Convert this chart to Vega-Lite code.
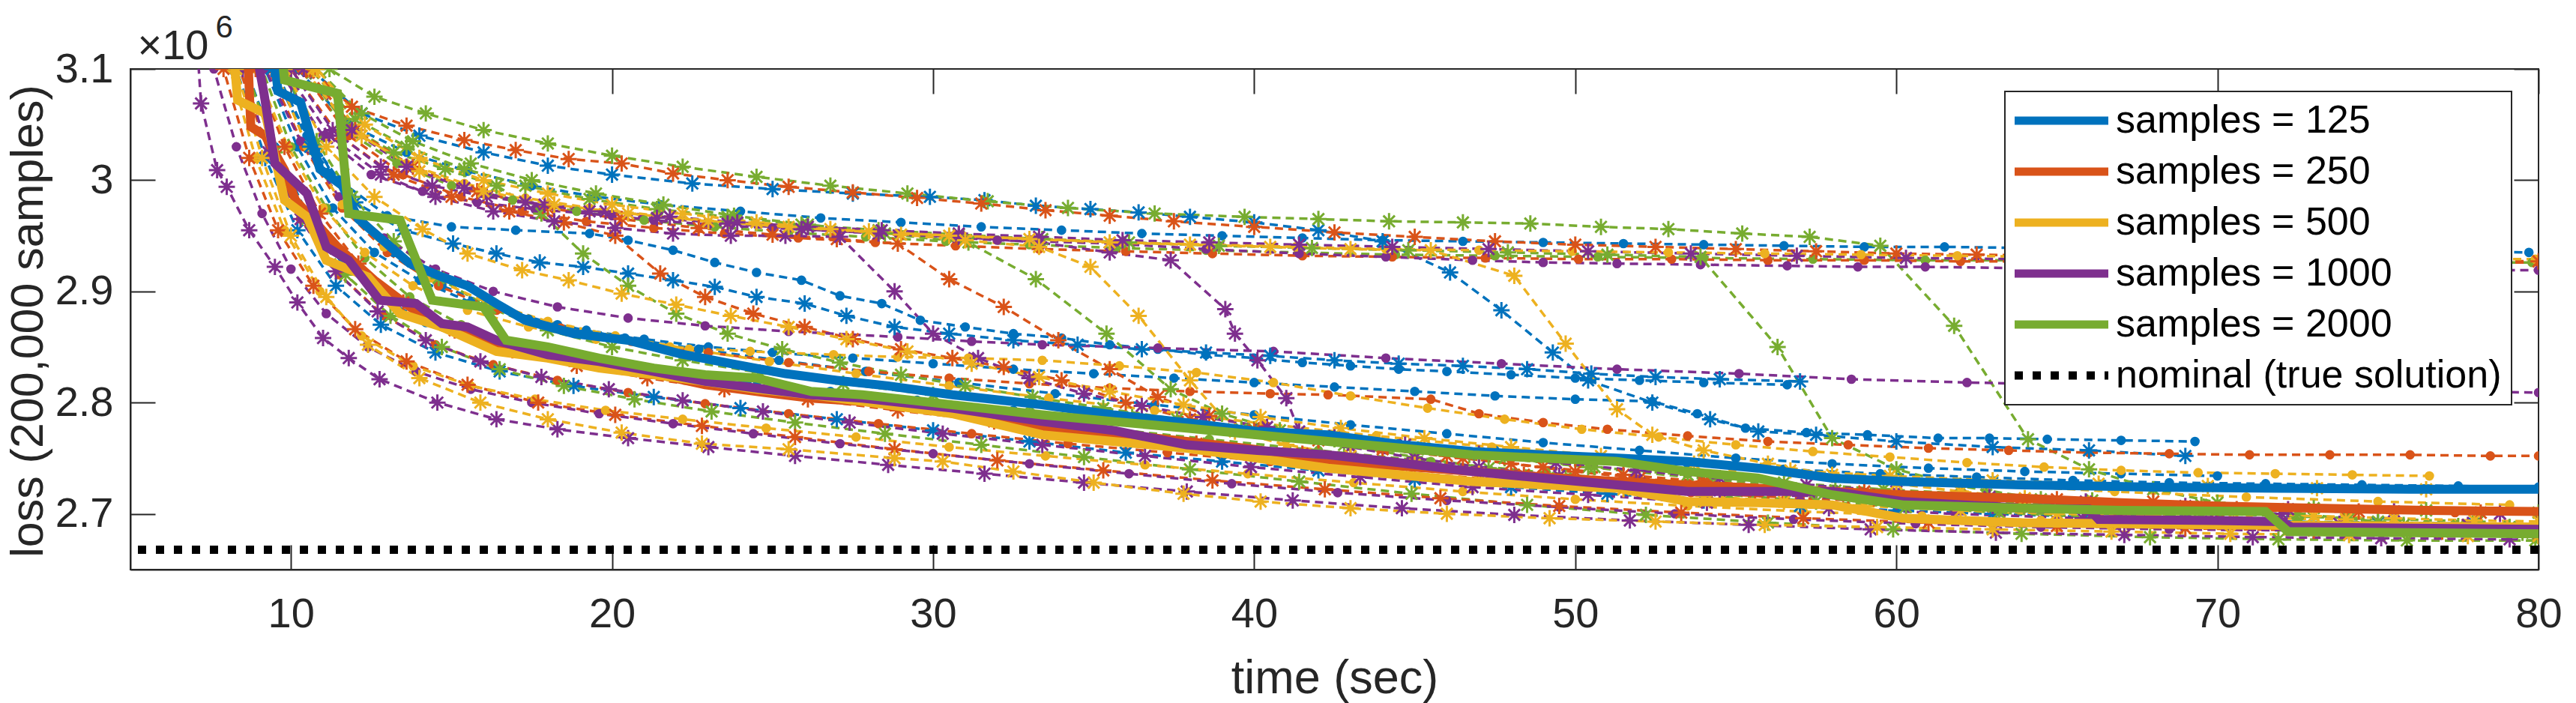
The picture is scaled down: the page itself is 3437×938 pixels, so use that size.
{
  "$schema": "https://vega.github.io/schema/vega-lite/v6.json",
  "width": 3213,
  "height": 668,
  "autosize": {"type": "none"},
  "padding": {"left": 174, "top": 92, "right": 50, "bottom": 178},
  "background": "white",
  "config": {
    "font": "Liberation Sans",
    "view": {"stroke": "#262626", "strokeWidth": 2}
  },
  "datasets": {
    "meta": [
      {"k": "b1", "c": "125", "m": "d"}, {"k": "b2", "c": "125", "m": "a"}, {"k": "b3", "c": "125", "m": "d"}, {"k": "b4", "c": "125", "m": "a"},
      {"k": "b5", "c": "125", "m": "d"}, {"k": "b6", "c": "125", "m": "d"}, {"k": "b7", "c": "125", "m": "a"}, {"k": "b8", "c": "125", "m": "d"},
      {"k": "o1", "c": "250", "m": "a"}, {"k": "o2", "c": "250", "m": "d"}, {"k": "o3", "c": "250", "m": "a"}, {"k": "o4", "c": "250", "m": "a"},
      {"k": "o5", "c": "250", "m": "d"}, {"k": "o6", "c": "250", "m": "d"}, {"k": "o7", "c": "250", "m": "a"}, {"k": "o8", "c": "250", "m": "a"},
      {"k": "y1", "c": "500", "m": "d"}, {"k": "y2", "c": "500", "m": "a"}, {"k": "y3", "c": "500", "m": "a"}, {"k": "y4", "c": "500", "m": "a"},
      {"k": "y5", "c": "500", "m": "d"}, {"k": "y6", "c": "500", "m": "d"}, {"k": "y7", "c": "500", "m": "a"}, {"k": "y8", "c": "500", "m": "d"},
      {"k": "p1", "c": "1000", "m": "d"}, {"k": "p2", "c": "1000", "m": "a"}, {"k": "p3", "c": "1000", "m": "a"}, {"k": "p4", "c": "1000", "m": "a"},
      {"k": "p5", "c": "1000", "m": "d"}, {"k": "p6", "c": "1000", "m": "a"}, {"k": "p7", "c": "1000", "m": "d"}, {"k": "p8", "c": "1000", "m": "a"},
      {"k": "g1", "c": "2000", "m": "a"}, {"k": "g2", "c": "2000", "m": "a"}, {"k": "g3", "c": "2000", "m": "a"}, {"k": "g4", "c": "2000", "m": "a"},
      {"k": "g5", "c": "2000", "m": "d"}, {"k": "g6", "c": "2000", "m": "a"}, {"k": "g7", "c": "2000", "m": "d"}, {"k": "g8", "c": "2000", "m": "a"}
    ],
    "runs": [
      {"k":"b1","x":8.8,"y":3.2},{"k":"b1","x":10.2,"y":3.1},{"k":"b1","x":11.8,"y":3.05},{"k":"b1","x":13.6,"y":3.025},{"k":"b1","x":15.5,"y":3.008},{"k":"b1","x":17.5,"y":2.995},{"k":"b1","x":19.5,"y":2.985},{"k":"b1","x":21.5,"y":2.978},{"k":"b1","x":24,"y":2.972},{"k":"b1","x":26.5,"y":2.966},{"k":"b1","x":29,"y":2.962},{"k":"b1","x":31.5,"y":2.958},{"k":"b1","x":34,"y":2.955},{"k":"b1","x":36.5,"y":2.952},{"k":"b1","x":39,"y":2.95},{"k":"b1","x":41.5,"y":2.948},{"k":"b1","x":44,"y":2.946},{"k":"b1","x":46.5,"y":2.945},{"k":"b1","x":49,"y":2.944},{"k":"b1","x":51.5,"y":2.943},{"k":"b1","x":54,"y":2.942},{"k":"b1","x":56.5,"y":2.941},{"k":"b1","x":59,"y":2.94},{"k":"b1","x":61.5,"y":2.94},{"k":"b1","x":64,"y":2.939},{"k":"b1","x":66.5,"y":2.938},{"k":"b1","x":69,"y":2.938},{"k":"b1","x":71.5,"y":2.937},{"k":"b1","x":74,"y":2.937},{"k":"b1","x":76.5,"y":2.936},{"k":"b1","x":79.7,"y":2.935},
      {"k":"b2","x":9.2,"y":3.2},{"k":"b2","x":10.6,"y":3.1},{"k":"b2","x":12.2,"y":3.06},{"k":"b2","x":14,"y":3.04},{"k":"b2","x":16,"y":3.025},{"k":"b2","x":18,"y":3.013},{"k":"b2","x":20,"y":3.005},{"k":"b2","x":22.5,"y":2.997},{"k":"b2","x":25,"y":2.992},{"k":"b2","x":27.5,"y":2.988},{"k":"b2","x":29.9,"y":2.985},{"k":"b2","x":31.6,"y":2.982},{"k":"b2","x":33.2,"y":2.977},{"k":"b2","x":34.9,"y":2.974},{"k":"b2","x":36.4,"y":2.971},{"k":"b2","x":38,"y":2.967},{"k":"b2","x":40,"y":2.962},{"k":"b2","x":42,"y":2.955},{"k":"b2","x":44,"y":2.945},{"k":"b2","x":46.1,"y":2.917},{"k":"b2","x":47.7,"y":2.883},{"k":"b2","x":49.3,"y":2.845},{"k":"b2","x":50.4,"y":2.82},{"k":"b2","x":52.4,"y":2.8},{"k":"b2","x":54.2,"y":2.785},{"k":"b2","x":55.7,"y":2.774},{"k":"b2","x":57.5,"y":2.771},{"k":"b2","x":60,"y":2.765},{"k":"b2","x":63,"y":2.76},{"k":"b2","x":66,"y":2.757},{"k":"b2","x":69,"y":2.752},
      {"k":"b3","x":8.6,"y":3.2},{"k":"b3","x":9.5,"y":3.1},{"k":"b3","x":10.5,"y":3.04},{"k":"b3","x":11.5,"y":3.0},{"k":"b3","x":13,"y":2.968},{"k":"b3","x":15,"y":2.958},{"k":"b3","x":17,"y":2.955},{"k":"b3","x":19.3,"y":2.952},{"k":"b3","x":20.5,"y":2.946},{"k":"b3","x":21.9,"y":2.937},{"k":"b3","x":23.2,"y":2.926},{"k":"b3","x":24.5,"y":2.917},{"k":"b3","x":25.9,"y":2.91},{"k":"b3","x":27.1,"y":2.896},{"k":"b3","x":28.4,"y":2.889},{"k":"b3","x":29.6,"y":2.874},{"k":"b3","x":31,"y":2.868},{"k":"b3","x":32.5,"y":2.862},{"k":"b3","x":34,"y":2.858},{"k":"b3","x":35.5,"y":2.852},{"k":"b3","x":37,"y":2.848},{"k":"b3","x":38.5,"y":2.843},{"k":"b3","x":40,"y":2.84},{"k":"b3","x":41.5,"y":2.836},{"k":"b3","x":43,"y":2.833},{"k":"b3","x":44.5,"y":2.83},{"k":"b3","x":46,"y":2.828},{"k":"b3","x":48,"y":2.825},{"k":"b3","x":50,"y":2.822},{"k":"b3","x":52,"y":2.82},{"k":"b3","x":54,"y":2.818},{"k":"b3","x":56.6,"y":2.816},
      {"k":"b4","x":8.4,"y":3.2},{"k":"b4","x":9.4,"y":3.1},{"k":"b4","x":10.6,"y":3.03},{"k":"b4","x":12,"y":2.98},{"k":"b4","x":13.5,"y":2.955},{"k":"b4","x":15.05,"y":2.943},{"k":"b4","x":16.4,"y":2.934},{"k":"b4","x":17.75,"y":2.926},{"k":"b4","x":19.1,"y":2.922},{"k":"b4","x":20.5,"y":2.916},{"k":"b4","x":21.9,"y":2.91},{"k":"b4","x":23.2,"y":2.904},{"k":"b4","x":24.5,"y":2.895},{"k":"b4","x":26,"y":2.889},{"k":"b4","x":27.3,"y":2.878},{"k":"b4","x":28.8,"y":2.868},{"k":"b4","x":30.5,"y":2.862},{"k":"b4","x":32.5,"y":2.856},{"k":"b4","x":34.5,"y":2.852},{"k":"b4","x":36.5,"y":2.848},{"k":"b4","x":38.5,"y":2.845},{"k":"b4","x":40.5,"y":2.842},{"k":"b4","x":42.5,"y":2.838},{"k":"b4","x":44.5,"y":2.835},{"k":"b4","x":46.5,"y":2.833},{"k":"b4","x":48.5,"y":2.83},{"k":"b4","x":50.5,"y":2.826},{"k":"b4","x":52.5,"y":2.823},{"k":"b4","x":54.5,"y":2.821},{"k":"b4","x":57,"y":2.819},
      {"k":"b5","x":8.2,"y":3.2},{"k":"b5","x":9.2,"y":3.1},{"k":"b5","x":10.2,"y":3.03},{"k":"b5","x":11.3,"y":2.975},{"k":"b5","x":12.6,"y":2.935},{"k":"b5","x":14,"y":2.91},{"k":"b5","x":15.6,"y":2.89},{"k":"b5","x":17.4,"y":2.875},{"k":"b5","x":19.2,"y":2.865},{"k":"b5","x":21,"y":2.857},{"k":"b5","x":23,"y":2.85},{"k":"b5","x":25,"y":2.845},{"k":"b5","x":27.5,"y":2.84},{"k":"b5","x":30,"y":2.835},{"k":"b5","x":32.5,"y":2.83},{"k":"b5","x":35,"y":2.826},{"k":"b5","x":37.5,"y":2.822},{"k":"b5","x":40,"y":2.818},{"k":"b5","x":42.5,"y":2.814},{"k":"b5","x":45,"y":2.81},{"k":"b5","x":47.5,"y":2.806},{"k":"b5","x":50,"y":2.803},{"k":"b5","x":52.4,"y":2.801},{"k":"b5","x":53.8,"y":2.79},{"k":"b5","x":55.3,"y":2.777},{"k":"b5","x":57.2,"y":2.773},{"k":"b5","x":59.1,"y":2.771},{"k":"b5","x":61.3,"y":2.768},{"k":"b5","x":62.9,"y":2.768},{"k":"b5","x":64.7,"y":2.767},{"k":"b5","x":67,"y":2.766},{"k":"b5","x":69.3,"y":2.765},
      {"k":"b6","x":7.8,"y":3.2},{"k":"b6","x":8.6,"y":3.1},{"k":"b6","x":9.5,"y":3.03},{"k":"b6","x":10.5,"y":2.97},{"k":"b6","x":11.6,"y":2.925},{"k":"b6","x":12.8,"y":2.895},{"k":"b6","x":14.2,"y":2.872},{"k":"b6","x":15.8,"y":2.855},{"k":"b6","x":17.6,"y":2.843},{"k":"b6","x":19.6,"y":2.834},{"k":"b6","x":21.8,"y":2.826},{"k":"b6","x":24.2,"y":2.818},{"k":"b6","x":26.8,"y":2.81},{"k":"b6","x":29.5,"y":2.802},{"k":"b6","x":32.5,"y":2.793},{"k":"b6","x":35.5,"y":2.785},{"k":"b6","x":38.5,"y":2.777},{"k":"b6","x":41.5,"y":2.77},{"k":"b6","x":44.5,"y":2.763},{"k":"b6","x":47.5,"y":2.757},{"k":"b6","x":50.5,"y":2.75},{"k":"b6","x":53.5,"y":2.745},{"k":"b6","x":56.5,"y":2.74},{"k":"b6","x":59.5,"y":2.736},{"k":"b6","x":62.5,"y":2.733},{"k":"b6","x":65.5,"y":2.73},{"k":"b6","x":68.5,"y":2.728},{"k":"b6","x":71.5,"y":2.727},{"k":"b6","x":74.5,"y":2.726},{"k":"b6","x":77.5,"y":2.725},{"k":"b6","x":80,"y":2.724},
      {"k":"b7","x":7.5,"y":3.2},{"k":"b7","x":8.3,"y":3.1},{"k":"b7","x":9.2,"y":3.02},{"k":"b7","x":10.2,"y":2.955},{"k":"b7","x":11.4,"y":2.905},{"k":"b7","x":12.8,"y":2.87},{"k":"b7","x":14.5,"y":2.845},{"k":"b7","x":16.5,"y":2.828},{"k":"b7","x":18.8,"y":2.815},{"k":"b7","x":21.3,"y":2.805},{"k":"b7","x":24,"y":2.795},{"k":"b7","x":27,"y":2.785},{"k":"b7","x":30,"y":2.775},{"k":"b7","x":33,"y":2.765},{"k":"b7","x":36,"y":2.755},{"k":"b7","x":39,"y":2.747},{"k":"b7","x":42,"y":2.739},{"k":"b7","x":45,"y":2.731},{"k":"b7","x":48,"y":2.724},{"k":"b7","x":51,"y":2.718},{"k":"b7","x":54,"y":2.712},{"k":"b7","x":57,"y":2.707},{"k":"b7","x":60,"y":2.703},{"k":"b7","x":63,"y":2.7},{"k":"b7","x":66,"y":2.697},{"k":"b7","x":69,"y":2.695},{"k":"b7","x":72,"y":2.693},{"k":"b7","x":75,"y":2.692},{"k":"b7","x":78,"y":2.691},
      {"k":"b8","x":8.9,"y":3.2},{"k":"b8","x":9.8,"y":3.1},{"k":"b8","x":10.8,"y":3.03},{"k":"b8","x":11.9,"y":2.975},{"k":"b8","x":13.2,"y":2.935},{"k":"b8","x":14.7,"y":2.905},{"k":"b8","x":16.4,"y":2.885},{"k":"b8","x":18.3,"y":2.87},{"k":"b8","x":20.4,"y":2.858},{"k":"b8","x":22.7,"y":2.848},{"k":"b8","x":25.2,"y":2.838},{"k":"b8","x":27.9,"y":2.828},{"k":"b8","x":30.8,"y":2.818},{"k":"b8","x":33.8,"y":2.808},{"k":"b8","x":36.9,"y":2.798},{"k":"b8","x":40,"y":2.789},{"k":"b8","x":43,"y":2.78},{"k":"b8","x":46,"y":2.772},{"k":"b8","x":49,"y":2.764},{"k":"b8","x":52,"y":2.757},{"k":"b8","x":55,"y":2.75},{"k":"b8","x":58,"y":2.745},{"k":"b8","x":61,"y":2.741},{"k":"b8","x":64,"y":2.738},{"k":"b8","x":67,"y":2.736},{"k":"b8","x":70,"y":2.734},
      {"k":"g1","x":10,"y":3.2},{"k":"g1","x":11.2,"y":3.1},{"k":"g1","x":12.6,"y":3.075},{"k":"g1","x":14.2,"y":3.06},{"k":"g1","x":16,"y":3.045},{"k":"g1","x":18,"y":3.033},{"k":"g1","x":20,"y":3.022},{"k":"g1","x":22.2,"y":3.012},{"k":"g1","x":24.5,"y":3.003},{"k":"g1","x":26.8,"y":2.995},{"k":"g1","x":29.2,"y":2.988},{"k":"g1","x":31.7,"y":2.981},{"k":"g1","x":34.2,"y":2.975},{"k":"g1","x":36.9,"y":2.97},{"k":"g1","x":39.7,"y":2.967},{"k":"g1","x":42,"y":2.965},{"k":"g1","x":44.2,"y":2.963},{"k":"g1","x":46.5,"y":2.962},{"k":"g1","x":48.6,"y":2.961},{"k":"g1","x":50.8,"y":2.958},{"k":"g1","x":52.9,"y":2.956},{"k":"g1","x":55.2,"y":2.952},{"k":"g1","x":57.3,"y":2.949},{"k":"g1","x":59.5,"y":2.941},{"k":"g1","x":61.8,"y":2.869},{"k":"g1","x":64.1,"y":2.767},{"k":"g1","x":66,"y":2.74},{"k":"g1","x":68,"y":2.722},{"k":"g1","x":70,"y":2.71},{"k":"g1","x":72.5,"y":2.7},{"k":"g1","x":75,"y":2.693},{"k":"g1","x":77.5,"y":2.689},{"k":"g1","x":80,"y":2.686},
      {"k":"g2","x":9.7,"y":3.2},{"k":"g2","x":10.8,"y":3.1},{"k":"g2","x":12.2,"y":3.06},{"k":"g2","x":13.8,"y":3.035},{"k":"g2","x":15.6,"y":3.015},{"k":"g2","x":17.5,"y":3.0},{"k":"g2","x":19.5,"y":2.988},{"k":"g2","x":21.6,"y":2.978},{"k":"g2","x":23.8,"y":2.968},{"k":"g2","x":26.1,"y":2.96},{"k":"g2","x":28.5,"y":2.952},{"k":"g2","x":31.1,"y":2.944},{"k":"g2","x":33.2,"y":2.911},{"k":"g2","x":35.4,"y":2.862},{"k":"g2","x":37.4,"y":2.812},{"k":"g2","x":39,"y":2.79},{"k":"g2","x":40.8,"y":2.775},{"k":"g2","x":42.8,"y":2.762},{"k":"g2","x":45,"y":2.751},{"k":"g2","x":47.3,"y":2.741},{"k":"g2","x":49.7,"y":2.732},{"k":"g2","x":52.2,"y":2.724},{"k":"g2","x":54.8,"y":2.717},{"k":"g2","x":57.5,"y":2.711},{"k":"g2","x":60.3,"y":2.706},{"k":"g2","x":63.2,"y":2.701},{"k":"g2","x":66.2,"y":2.697},{"k":"g2","x":69.3,"y":2.694},{"k":"g2","x":72.5,"y":2.692},{"k":"g2","x":75.8,"y":2.69},{"k":"g2","x":79.1,"y":2.688},
      {"k":"g3","x":9.5,"y":3.2},{"k":"g3","x":10.6,"y":3.1},{"k":"g3","x":12,"y":3.055},{"k":"g3","x":13.6,"y":3.03},{"k":"g3","x":15.4,"y":3.01},{"k":"g3","x":17.3,"y":2.995},{"k":"g3","x":19.3,"y":2.983},{"k":"g3","x":21.4,"y":2.974},{"k":"g3","x":23.6,"y":2.967},{"k":"g3","x":25.9,"y":2.96},{"k":"g3","x":28.3,"y":2.955},{"k":"g3","x":30.8,"y":2.951},{"k":"g3","x":33.4,"y":2.947},{"k":"g3","x":36.1,"y":2.944},{"k":"g3","x":38.9,"y":2.941},{"k":"g3","x":41.8,"y":2.939},{"k":"g3","x":44.8,"y":2.937},{"k":"g3","x":47.9,"y":2.935},{"k":"g3","x":51,"y":2.933},{"k":"g3","x":53.9,"y":2.931},{"k":"g3","x":56.3,"y":2.85},{"k":"g3","x":58,"y":2.768},{"k":"g3","x":60,"y":2.74},{"k":"g3","x":62,"y":2.725},{"k":"g3","x":64.5,"y":2.713},{"k":"g3","x":67,"y":2.704},{"k":"g3","x":69.5,"y":2.697},{"k":"g3","x":72,"y":2.692},{"k":"g3","x":74.5,"y":2.688},{"k":"g3","x":77,"y":2.685},{"k":"g3","x":79.5,"y":2.683},
      {"k":"g4","x":9.3,"y":3.2},{"k":"g4","x":10.4,"y":3.1},{"k":"g4","x":11.7,"y":3.05},{"k":"g4","x":13.2,"y":3.025},{"k":"g4","x":14.8,"y":3.01},{"k":"g4","x":16.4,"y":2.995},{"k":"g4","x":17.8,"y":2.97},{"k":"g4","x":19.1,"y":2.934},{"k":"g4","x":20.5,"y":2.905},{"k":"g4","x":22,"y":2.88},{"k":"g4","x":23.6,"y":2.862},{"k":"g4","x":25.3,"y":2.848},{"k":"g4","x":27.1,"y":2.836},{"k":"g4","x":29,"y":2.825},{"k":"g4","x":31,"y":2.815},{"k":"g4","x":33.1,"y":2.805},{"k":"g4","x":35.3,"y":2.795},{"k":"g4","x":37.6,"y":2.785},{"k":"g4","x":40,"y":2.776},{"k":"g4","x":42.5,"y":2.767},{"k":"g4","x":45.1,"y":2.758},{"k":"g4","x":47.8,"y":2.75},{"k":"g4","x":50.6,"y":2.742},{"k":"g4","x":53.5,"y":2.735},{"k":"g4","x":56.5,"y":2.728},{"k":"g4","x":59.6,"y":2.722},{"k":"g4","x":62.8,"y":2.717},{"k":"g4","x":66.1,"y":2.712},{"k":"g4","x":69.5,"y":2.708},{"k":"g4","x":73,"y":2.705},{"k":"g4","x":76.5,"y":2.703},{"k":"g4","x":80,"y":2.701},
      {"k":"g5","x":9.1,"y":3.2},{"k":"g5","x":10.3,"y":3.1},{"k":"g5","x":11.7,"y":3.045},{"k":"g5","x":13.3,"y":3.015},{"k":"g5","x":15,"y":2.995},{"k":"g5","x":16.9,"y":2.982},{"k":"g5","x":18.9,"y":2.972},{"k":"g5","x":21,"y":2.964},{"k":"g5","x":23.2,"y":2.958},{"k":"g5","x":25.5,"y":2.953},{"k":"g5","x":27.9,"y":2.949},{"k":"g5","x":30.4,"y":2.945},{"k":"g5","x":33,"y":2.942},{"k":"g5","x":35.7,"y":2.939},{"k":"g5","x":38.5,"y":2.937},{"k":"g5","x":41.4,"y":2.935},{"k":"g5","x":44.4,"y":2.933},{"k":"g5","x":47.5,"y":2.932},{"k":"g5","x":50.7,"y":2.931},{"k":"g5","x":54,"y":2.93},{"k":"g5","x":57.4,"y":2.929},{"k":"g5","x":60.9,"y":2.928},{"k":"g5","x":64.5,"y":2.928},{"k":"g5","x":68.2,"y":2.927},{"k":"g5","x":72,"y":2.927},{"k":"g5","x":75.9,"y":2.926},{"k":"g5","x":79.8,"y":2.926},
      {"k":"g6","x":7.9,"y":3.2},{"k":"g6","x":8.6,"y":3.1},{"k":"g6","x":9.5,"y":3.025},{"k":"g6","x":10.5,"y":2.965},{"k":"g6","x":11.7,"y":2.915},{"k":"g6","x":13.1,"y":2.878},{"k":"g6","x":14.7,"y":2.85},{"k":"g6","x":16.5,"y":2.83},{"k":"g6","x":18.5,"y":2.815},{"k":"g6","x":20.7,"y":2.803},{"k":"g6","x":23.1,"y":2.792},{"k":"g6","x":25.7,"y":2.782},{"k":"g6","x":28.5,"y":2.772},{"k":"g6","x":31.5,"y":2.762},{"k":"g6","x":34.7,"y":2.751},{"k":"g6","x":38,"y":2.74},{"k":"g6","x":41.4,"y":2.729},{"k":"g6","x":44.9,"y":2.718},{"k":"g6","x":48.5,"y":2.708},{"k":"g6","x":52.2,"y":2.699},{"k":"g6","x":56,"y":2.692},{"k":"g6","x":59.9,"y":2.686},{"k":"g6","x":63.9,"y":2.682},{"k":"g6","x":67.9,"y":2.679},{"k":"g6","x":71.9,"y":2.677},{"k":"g6","x":75.9,"y":2.676},{"k":"g6","x":79.9,"y":2.676},
      {"k":"g7","x":8.3,"y":3.2},{"k":"g7","x":9.1,"y":3.1},{"k":"g7","x":10,"y":3.03},{"k":"g7","x":11.1,"y":2.975},{"k":"g7","x":12.3,"y":2.93},{"k":"g7","x":13.7,"y":2.895},{"k":"g7","x":15.3,"y":2.87},{"k":"g7","x":17.1,"y":2.852},{"k":"g7","x":19.1,"y":2.838},{"k":"g7","x":21.3,"y":2.826},{"k":"g7","x":23.7,"y":2.816},{"k":"g7","x":26.3,"y":2.806},{"k":"g7","x":29.1,"y":2.797},{"k":"g7","x":32.1,"y":2.787},{"k":"g7","x":35.3,"y":2.777},{"k":"g7","x":38.6,"y":2.767},{"k":"g7","x":42,"y":2.757},{"k":"g7","x":45.5,"y":2.747},{"k":"g7","x":49.1,"y":2.737},{"k":"g7","x":52.8,"y":2.727},{"k":"g7","x":56.6,"y":2.718},{"k":"g7","x":60.5,"y":2.71},{"k":"g7","x":64.5,"y":2.703},{"k":"g7","x":68.5,"y":2.697},{"k":"g7","x":72.5,"y":2.693},{"k":"g7","x":76.5,"y":2.69},{"k":"g7","x":80,"y":2.688},
      {"k":"g8","x":8.9,"y":3.2},{"k":"g8","x":9.8,"y":3.1},{"k":"g8","x":10.8,"y":3.035},{"k":"g8","x":11.9,"y":2.985},{"k":"g8","x":13.2,"y":2.945},{"k":"g8","x":14.6,"y":2.912},{"k":"g8","x":16.2,"y":2.885},{"k":"g8","x":18,"y":2.865},{"k":"g8","x":20,"y":2.85},{"k":"g8","x":22.2,"y":2.838},{"k":"g8","x":24.6,"y":2.827},{"k":"g8","x":27.2,"y":2.817},{"k":"g8","x":30,"y":2.807},{"k":"g8","x":33,"y":2.797},{"k":"g8","x":36.2,"y":2.787},{"k":"g8","x":39.6,"y":2.776},{"k":"g8","x":43.1,"y":2.764},{"k":"g8","x":46.7,"y":2.753},{"k":"g8","x":50.4,"y":2.742},{"k":"g8","x":54.2,"y":2.731},{"k":"g8","x":58.1,"y":2.721},{"k":"g8","x":62.1,"y":2.713},{"k":"g8","x":66.1,"y":2.706},{"k":"g8","x":70.1,"y":2.7},{"k":"g8","x":74.1,"y":2.696},{"k":"g8","x":78.1,"y":2.693},
      {"k":"o1","x":9.5,"y":3.2},{"k":"o1","x":10.6,"y":3.1},{"k":"o1","x":11.9,"y":3.066},{"k":"o1","x":13.6,"y":3.049},{"k":"o1","x":15.4,"y":3.036},{"k":"o1","x":17,"y":3.027},{"k":"o1","x":18.65,"y":3.019},{"k":"o1","x":20.3,"y":3.015},{"k":"o1","x":21.9,"y":3.006},{"k":"o1","x":23.6,"y":3.0},{"k":"o1","x":25.5,"y":2.994},{"k":"o1","x":27.5,"y":2.989},{"k":"o1","x":29.5,"y":2.984},{"k":"o1","x":31.5,"y":2.979},{"k":"o1","x":33.5,"y":2.973},{"k":"o1","x":35.5,"y":2.968},{"k":"o1","x":37.5,"y":2.963},{"k":"o1","x":40,"y":2.958},{"k":"o1","x":42.5,"y":2.953},{"k":"o1","x":45,"y":2.949},{"k":"o1","x":47.5,"y":2.945},{"k":"o1","x":50,"y":2.942},{"k":"o1","x":52.5,"y":2.94},{"k":"o1","x":55,"y":2.938},{"k":"o1","x":57.5,"y":2.936},{"k":"o1","x":60,"y":2.934},{"k":"o1","x":62.5,"y":2.933},{"k":"o1","x":65,"y":2.932},{"k":"o1","x":67.5,"y":2.931},{"k":"o1","x":70,"y":2.93},{"k":"o1","x":72.5,"y":2.929},{"k":"o1","x":75,"y":2.928},{"k":"o1","x":77.5,"y":2.928},{"k":"o1","x":80,"y":2.927},
      {"k":"o2","x":9,"y":3.2},{"k":"o2","x":10.3,"y":3.1},{"k":"o2","x":11.8,"y":3.04},{"k":"o2","x":13.5,"y":3.005},{"k":"o2","x":15.3,"y":2.985},{"k":"o2","x":17.2,"y":2.972},{"k":"o2","x":19.2,"y":2.963},{"k":"o2","x":21.3,"y":2.957},{"k":"o2","x":23.5,"y":2.952},{"k":"o2","x":25.8,"y":2.948},{"k":"o2","x":28.2,"y":2.944},{"k":"o2","x":30.7,"y":2.941},{"k":"o2","x":33.3,"y":2.938},{"k":"o2","x":36,"y":2.936},{"k":"o2","x":38.7,"y":2.934},{"k":"o2","x":41.5,"y":2.932},{"k":"o2","x":44.3,"y":2.931},{"k":"o2","x":47.2,"y":2.93},{"k":"o2","x":50.1,"y":2.929},{"k":"o2","x":53,"y":2.929},{"k":"o2","x":56,"y":2.928},{"k":"o2","x":59,"y":2.928},{"k":"o2","x":62,"y":2.927},{"k":"o2","x":65,"y":2.927},{"k":"o2","x":68,"y":2.927},{"k":"o2","x":71,"y":2.926},{"k":"o2","x":74,"y":2.926},{"k":"o2","x":77,"y":2.926},{"k":"o2","x":80,"y":2.926},
      {"k":"o3","x":9.3,"y":3.2},{"k":"o3","x":10.5,"y":3.1},{"k":"o3","x":12,"y":3.045},{"k":"o3","x":13.8,"y":3.012},{"k":"o3","x":15.8,"y":2.99},{"k":"o3","x":18,"y":2.975},{"k":"o3","x":20.3,"y":2.965},{"k":"o3","x":22.7,"y":2.957},{"k":"o3","x":25,"y":2.951},{"k":"o3","x":27,"y":2.947},{"k":"o3","x":28.9,"y":2.943},{"k":"o3","x":30.5,"y":2.911},{"k":"o3","x":32.2,"y":2.886},{"k":"o3","x":33.9,"y":2.856},{"k":"o3","x":35.5,"y":2.83},{"k":"o3","x":37,"y":2.805},{"k":"o3","x":38.6,"y":2.788},{"k":"o3","x":40.3,"y":2.777},{"k":"o3","x":42,"y":2.768},{"k":"o3","x":44,"y":2.76},{"k":"o3","x":46,"y":2.752},{"k":"o3","x":48,"y":2.745},{"k":"o3","x":50,"y":2.738},{"k":"o3","x":52,"y":2.732},{"k":"o3","x":54,"y":2.726},{"k":"o3","x":56,"y":2.721},{"k":"o3","x":58.5,"y":2.716},{"k":"o3","x":61,"y":2.712},{"k":"o3","x":64,"y":2.708},{"k":"o3","x":67,"y":2.705},{"k":"o3","x":70,"y":2.703},
      {"k":"o4","x":8.8,"y":3.2},{"k":"o4","x":10,"y":3.1},{"k":"o4","x":11.5,"y":3.04},{"k":"o4","x":13.2,"y":3.005},{"k":"o4","x":15,"y":2.985},{"k":"o4","x":16.8,"y":2.972},{"k":"o4","x":18.5,"y":2.962},{"k":"o4","x":20.1,"y":2.95},{"k":"o4","x":21.5,"y":2.916},{"k":"o4","x":22.9,"y":2.895},{"k":"o4","x":24.4,"y":2.88},{"k":"o4","x":26,"y":2.868},{"k":"o4","x":27.5,"y":2.857},{"k":"o4","x":29,"y":2.848},{"k":"o4","x":30.6,"y":2.84},{"k":"o4","x":32.2,"y":2.832},{"k":"o4","x":34,"y":2.82},{"k":"o4","x":36,"y":2.8},{"k":"o4","x":38,"y":2.785},{"k":"o4","x":40,"y":2.775},{"k":"o4","x":42,"y":2.766},{"k":"o4","x":44,"y":2.758},{"k":"o4","x":46.5,"y":2.75},{"k":"o4","x":49,"y":2.742},{"k":"o4","x":51.5,"y":2.735},{"k":"o4","x":54,"y":2.729},{"k":"o4","x":56.5,"y":2.724},{"k":"o4","x":59,"y":2.72},{"k":"o4","x":62,"y":2.716},{"k":"o4","x":65,"y":2.713},{"k":"o4","x":68,"y":2.711},
      {"k":"o5","x":8.3,"y":3.2},{"k":"o5","x":9.3,"y":3.1},{"k":"o5","x":10.4,"y":3.03},{"k":"o5","x":11.6,"y":2.975},{"k":"o5","x":13,"y":2.935},{"k":"o5","x":14.6,"y":2.905},{"k":"o5","x":16.4,"y":2.883},{"k":"o5","x":18.4,"y":2.867},{"k":"o5","x":20.6,"y":2.855},{"k":"o5","x":23,"y":2.845},{"k":"o5","x":25.5,"y":2.836},{"k":"o5","x":28,"y":2.828},{"k":"o5","x":30.5,"y":2.822},{"k":"o5","x":33,"y":2.817},{"k":"o5","x":35.5,"y":2.813},{"k":"o5","x":38,"y":2.81},{"k":"o5","x":40.5,"y":2.808},{"k":"o5","x":42.3,"y":2.807},{"k":"o5","x":45.5,"y":2.803},{"k":"o5","x":47,"y":2.79},{"k":"o5","x":49,"y":2.782},{"k":"o5","x":51,"y":2.776},{"k":"o5","x":53.5,"y":2.77},{"k":"o5","x":56,"y":2.765},{"k":"o5","x":58.5,"y":2.762},{"k":"o5","x":61,"y":2.759},{"k":"o5","x":63.5,"y":2.757},{"k":"o5","x":66,"y":2.755},{"k":"o5","x":68.5,"y":2.754},{"k":"o5","x":71,"y":2.753},{"k":"o5","x":73.5,"y":2.753},{"k":"o5","x":76,"y":2.753},{"k":"o5","x":78.5,"y":2.752},{"k":"o5","x":80,"y":2.752},
      {"k":"o6","x":7.6,"y":3.2},{"k":"o6","x":8.4,"y":3.1},{"k":"o6","x":9.3,"y":3.025},{"k":"o6","x":10.3,"y":2.965},{"k":"o6","x":11.5,"y":2.915},{"k":"o6","x":12.9,"y":2.878},{"k":"o6","x":14.5,"y":2.852},{"k":"o6","x":16.3,"y":2.834},{"k":"o6","x":18.3,"y":2.82},{"k":"o6","x":20.5,"y":2.809},{"k":"o6","x":22.9,"y":2.799},{"k":"o6","x":25.5,"y":2.79},{"k":"o6","x":28.3,"y":2.781},{"k":"o6","x":31.2,"y":2.772},{"k":"o6","x":34.2,"y":2.763},{"k":"o6","x":37.3,"y":2.755},{"k":"o6","x":40.5,"y":2.747},{"k":"o6","x":43.7,"y":2.739},{"k":"o6","x":47,"y":2.732},{"k":"o6","x":50.3,"y":2.725},{"k":"o6","x":53.6,"y":2.719},{"k":"o6","x":57,"y":2.714},{"k":"o6","x":60.4,"y":2.71},{"k":"o6","x":63.8,"y":2.707},{"k":"o6","x":67.2,"y":2.705},{"k":"o6","x":70.6,"y":2.703},{"k":"o6","x":74,"y":2.702},{"k":"o6","x":77.4,"y":2.701},{"k":"o6","x":80,"y":2.7},
      {"k":"o7","x":7.2,"y":3.2},{"k":"o7","x":7.9,"y":3.1},{"k":"o7","x":8.7,"y":3.02},{"k":"o7","x":9.6,"y":2.955},{"k":"o7","x":10.7,"y":2.905},{"k":"o7","x":12,"y":2.866},{"k":"o7","x":13.6,"y":2.837},{"k":"o7","x":15.5,"y":2.816},{"k":"o7","x":17.7,"y":2.8},{"k":"o7","x":20.1,"y":2.789},{"k":"o7","x":22.8,"y":2.779},{"k":"o7","x":25.7,"y":2.769},{"k":"o7","x":28.8,"y":2.758},{"k":"o7","x":32,"y":2.748},{"k":"o7","x":35.3,"y":2.739},{"k":"o7","x":38.7,"y":2.73},{"k":"o7","x":42.2,"y":2.722},{"k":"o7","x":45.8,"y":2.714},{"k":"o7","x":49.5,"y":2.707},{"k":"o7","x":53.3,"y":2.701},{"k":"o7","x":57.1,"y":2.696},{"k":"o7","x":61,"y":2.692},{"k":"o7","x":65,"y":2.689},{"k":"o7","x":69,"y":2.687},{"k":"o7","x":73,"y":2.685},{"k":"o7","x":77,"y":2.684},{"k":"o7","x":80,"y":2.683},
      {"k":"o8","x":8.1,"y":3.2},{"k":"o8","x":8.9,"y":3.1},{"k":"o8","x":9.8,"y":3.03},{"k":"o8","x":10.9,"y":2.97},{"k":"o8","x":12.1,"y":2.925},{"k":"o8","x":13.5,"y":2.89},{"k":"o8","x":15.1,"y":2.865},{"k":"o8","x":16.9,"y":2.847},{"k":"o8","x":18.9,"y":2.833},{"k":"o8","x":21.1,"y":2.822},{"k":"o8","x":23.5,"y":2.812},{"k":"o8","x":26.1,"y":2.803},{"k":"o8","x":28.9,"y":2.793},{"k":"o8","x":31.9,"y":2.783},{"k":"o8","x":35,"y":2.772},{"k":"o8","x":38.2,"y":2.763},{"k":"o8","x":41.5,"y":2.754},{"k":"o8","x":44.9,"y":2.744},{"k":"o8","x":48.4,"y":2.735},{"k":"o8","x":52,"y":2.727},{"k":"o8","x":55.6,"y":2.72},{"k":"o8","x":59.3,"y":2.714},{"k":"o8","x":63,"y":2.709},{"k":"o8","x":66.8,"y":2.706},{"k":"o8","x":70.6,"y":2.704},{"k":"o8","x":74.4,"y":2.702},{"k":"o8","x":78.2,"y":2.701},
      {"k":"p1","x":8.4,"y":3.2},{"k":"p1","x":9.6,"y":3.1},{"k":"p1","x":11,"y":3.04},{"k":"p1","x":12.5,"y":3.005},{"k":"p1","x":14.1,"y":2.99},{"k":"p1","x":15.8,"y":2.98},{"k":"p1","x":17.6,"y":2.974},{"k":"p1","x":20,"y":2.968},{"k":"p1","x":21.3,"y":2.964},{"k":"p1","x":23,"y":2.96},{"k":"p1","x":25,"y":2.957},{"k":"p1","x":27,"y":2.954},{"k":"p1","x":28.9,"y":2.952},{"k":"p1","x":32,"y":2.946},{"k":"p1","x":35.6,"y":2.943},{"k":"p1","x":38.5,"y":2.938},{"k":"p1","x":41.4,"y":2.934},{"k":"p1","x":44.1,"y":2.931},{"k":"p1","x":46.8,"y":2.928},{"k":"p1","x":49,"y":2.926},{"k":"p1","x":51.3,"y":2.925},{"k":"p1","x":53.9,"y":2.924},{"k":"p1","x":56.6,"y":2.923},{"k":"p1","x":58.8,"y":2.922},{"k":"p1","x":60.9,"y":2.922},{"k":"p1","x":63.5,"y":2.921},{"k":"p1","x":66,"y":2.921},{"k":"p1","x":68.5,"y":2.92},{"k":"p1","x":71,"y":2.92},{"k":"p1","x":73.5,"y":2.92},{"k":"p1","x":76,"y":2.919},{"k":"p1","x":78.5,"y":2.919},{"k":"p1","x":80,"y":2.919},
      {"k":"p2","x":8.9,"y":3.2},{"k":"p2","x":10,"y":3.1},{"k":"p2","x":11.3,"y":3.045},{"k":"p2","x":12.8,"y":3.012},{"k":"p2","x":14.4,"y":2.995},{"k":"p2","x":16.1,"y":2.985},{"k":"p2","x":17.9,"y":2.978},{"k":"p2","x":19.8,"y":2.972},{"k":"p2","x":21.8,"y":2.967},{"k":"p2","x":23.9,"y":2.962},{"k":"p2","x":26.1,"y":2.958},{"k":"p2","x":28.4,"y":2.955},{"k":"p2","x":30.8,"y":2.952},{"k":"p2","x":33.3,"y":2.949},{"k":"p2","x":35.9,"y":2.946},{"k":"p2","x":38.6,"y":2.944},{"k":"p2","x":41.4,"y":2.942},{"k":"p2","x":44.3,"y":2.94},{"k":"p2","x":47.3,"y":2.938},{"k":"p2","x":50.4,"y":2.936},{"k":"p2","x":53.6,"y":2.934},{"k":"p2","x":56.9,"y":2.932},{"k":"p2","x":60.3,"y":2.93},{"k":"p2","x":63.8,"y":2.929},{"k":"p2","x":67.4,"y":2.928},{"k":"p2","x":71.1,"y":2.927},{"k":"p2","x":74.9,"y":2.926},{"k":"p2","x":78.8,"y":2.925},
      {"k":"p3","x":9.2,"y":3.2},{"k":"p3","x":10.4,"y":3.1},{"k":"p3","x":11.9,"y":3.045},{"k":"p3","x":13.6,"y":3.012},{"k":"p3","x":15.4,"y":2.993},{"k":"p3","x":17.3,"y":2.98},{"k":"p3","x":19.3,"y":2.972},{"k":"p3","x":21.4,"y":2.966},{"k":"p3","x":23.6,"y":2.961},{"k":"p3","x":25.9,"y":2.956},{"k":"p3","x":28.3,"y":2.952},{"k":"p3","x":30.8,"y":2.949},{"k":"p3","x":33.3,"y":2.944},{"k":"p3","x":35.5,"y":2.935},{"k":"p3","x":37.4,"y":2.928},{"k":"p3","x":39.1,"y":2.884},{"k":"p3","x":39.4,"y":2.862},{"k":"p3","x":40.1,"y":2.838},{"k":"p3","x":41,"y":2.804},{"k":"p3","x":41.4,"y":2.774},{"k":"p3","x":43,"y":2.76},{"k":"p3","x":45,"y":2.75},{"k":"p3","x":47,"y":2.742},{"k":"p3","x":49.5,"y":2.734},{"k":"p3","x":52,"y":2.727},{"k":"p3","x":54.5,"y":2.721},{"k":"p3","x":57,"y":2.716},{"k":"p3","x":60,"y":2.711},{"k":"p3","x":63,"y":2.707},{"k":"p3","x":66,"y":2.704},{"k":"p3","x":69,"y":2.702},{"k":"p3","x":72,"y":2.7},
      {"k":"p4","x":8.6,"y":3.2},{"k":"p4","x":9.8,"y":3.1},{"k":"p4","x":11.2,"y":3.04},{"k":"p4","x":12.8,"y":3.005},{"k":"p4","x":14.5,"y":2.985},{"k":"p4","x":16.3,"y":2.972},{"k":"p4","x":18.2,"y":2.963},{"k":"p4","x":20.1,"y":2.957},{"k":"p4","x":21.9,"y":2.952},{"k":"p4","x":23.7,"y":2.95},{"k":"p4","x":25.4,"y":2.95},{"k":"p4","x":27.1,"y":2.949},{"k":"p4","x":28.8,"y":2.9},{"k":"p4","x":30,"y":2.862},{"k":"p4","x":31.4,"y":2.84},{"k":"p4","x":33,"y":2.822},{"k":"p4","x":34.7,"y":2.808},{"k":"p4","x":36.5,"y":2.797},{"k":"p4","x":38.4,"y":2.787},{"k":"p4","x":40.4,"y":2.778},{"k":"p4","x":42.5,"y":2.77},{"k":"p4","x":44.7,"y":2.762},{"k":"p4","x":47,"y":2.754},{"k":"p4","x":49.4,"y":2.746},{"k":"p4","x":51.9,"y":2.739},{"k":"p4","x":54.5,"y":2.732},{"k":"p4","x":57.2,"y":2.726},{"k":"p4","x":60,"y":2.72},{"k":"p4","x":62.9,"y":2.715},{"k":"p4","x":65.9,"y":2.711},{"k":"p4","x":69,"y":2.707},{"k":"p4","x":72.2,"y":2.704},{"k":"p4","x":75.5,"y":2.702},{"k":"p4","x":78.8,"y":2.7},
      {"k":"p5","x":8.2,"y":3.2},{"k":"p5","x":9.2,"y":3.1},{"k":"p5","x":10.3,"y":3.035},{"k":"p5","x":11.5,"y":2.985},{"k":"p5","x":12.9,"y":2.948},{"k":"p5","x":14.5,"y":2.92},{"k":"p5","x":16.3,"y":2.9},{"k":"p5","x":18.3,"y":2.886},{"k":"p5","x":20.5,"y":2.876},{"k":"p5","x":22.9,"y":2.869},{"k":"p5","x":25.5,"y":2.864},{"k":"p5","x":28.9,"y":2.859},{"k":"p5","x":31.2,"y":2.855},{"k":"p5","x":33.4,"y":2.852},{"k":"p5","x":37,"y":2.849},{"k":"p5","x":40.6,"y":2.846},{"k":"p5","x":44.1,"y":2.84},{"k":"p5","x":47.7,"y":2.835},{"k":"p5","x":51.3,"y":2.83},{"k":"p5","x":55.1,"y":2.826},{"k":"p5","x":58.6,"y":2.821},{"k":"p5","x":62.2,"y":2.818},{"k":"p5","x":66,"y":2.816},{"k":"p5","x":69.8,"y":2.814},{"k":"p5","x":73.5,"y":2.812},{"k":"p5","x":77,"y":2.81},{"k":"p5","x":80,"y":2.809},
      {"k":"p6","x":6.9,"y":3.2},{"k":"p6","x":7.2,"y":3.069},{"k":"p6","x":7.7,"y":3.009},{"k":"p6","x":8,"y":2.994},{"k":"p6","x":8.7,"y":2.955},{"k":"p6","x":9.5,"y":2.922},{"k":"p6","x":10.2,"y":2.89},{"k":"p6","x":11,"y":2.858},{"k":"p6","x":11.8,"y":2.84},{"k":"p6","x":12.76,"y":2.821},{"k":"p6","x":14.56,"y":2.8},{"k":"p6","x":16.4,"y":2.785},{"k":"p6","x":18.3,"y":2.776},{"k":"p6","x":20.5,"y":2.768},{"k":"p6","x":23,"y":2.76},{"k":"p6","x":25.7,"y":2.752},{"k":"p6","x":28.6,"y":2.744},{"k":"p6","x":31.6,"y":2.736},{"k":"p6","x":34.7,"y":2.728},{"k":"p6","x":37.9,"y":2.72},{"k":"p6","x":41.2,"y":2.712},{"k":"p6","x":44.6,"y":2.705},{"k":"p6","x":48.1,"y":2.699},{"k":"p6","x":51.7,"y":2.694},{"k":"p6","x":55.4,"y":2.69},{"k":"p6","x":59.2,"y":2.686},{"k":"p6","x":63.1,"y":2.683},{"k":"p6","x":67.1,"y":2.681},{"k":"p6","x":71.1,"y":2.679},{"k":"p6","x":75.1,"y":2.678},{"k":"p6","x":79.1,"y":2.677},
      {"k":"p7","x":7.1,"y":3.2},{"k":"p7","x":7.6,"y":3.1},{"k":"p7","x":8.3,"y":3.03},{"k":"p7","x":9.1,"y":2.97},{"k":"p7","x":10,"y":2.92},{"k":"p7","x":11.1,"y":2.88},{"k":"p7","x":12.4,"y":2.85},{"k":"p7","x":13.9,"y":2.828},{"k":"p7","x":15.6,"y":2.812},{"k":"p7","x":17.5,"y":2.8},{"k":"p7","x":19.6,"y":2.79},{"k":"p7","x":21.9,"y":2.781},{"k":"p7","x":24.4,"y":2.772},{"k":"p7","x":27.1,"y":2.763},{"k":"p7","x":30,"y":2.754},{"k":"p7","x":33,"y":2.745},{"k":"p7","x":36.1,"y":2.736},{"k":"p7","x":39.3,"y":2.727},{"k":"p7","x":42.6,"y":2.719},{"k":"p7","x":46,"y":2.712},{"k":"p7","x":49.5,"y":2.706},{"k":"p7","x":53.1,"y":2.7},{"k":"p7","x":56.8,"y":2.695},{"k":"p7","x":60.6,"y":2.691},{"k":"p7","x":64.5,"y":2.688},{"k":"p7","x":68.5,"y":2.686},{"k":"p7","x":72.5,"y":2.685},{"k":"p7","x":76.5,"y":2.684},{"k":"p7","x":80,"y":2.684},
      {"k":"p8","x":7.8,"y":3.2},{"k":"p8","x":8.5,"y":3.1},{"k":"p8","x":9.3,"y":3.025},{"k":"p8","x":10.3,"y":2.965},{"k":"p8","x":11.4,"y":2.918},{"k":"p8","x":12.7,"y":2.882},{"k":"p8","x":14.2,"y":2.856},{"k":"p8","x":15.9,"y":2.837},{"k":"p8","x":17.8,"y":2.823},{"k":"p8","x":19.9,"y":2.812},{"k":"p8","x":22.2,"y":2.802},{"k":"p8","x":24.7,"y":2.792},{"k":"p8","x":27.4,"y":2.782},{"k":"p8","x":30.3,"y":2.772},{"k":"p8","x":33.4,"y":2.762},{"k":"p8","x":36.6,"y":2.752},{"k":"p8","x":39.9,"y":2.742},{"k":"p8","x":43.3,"y":2.733},{"k":"p8","x":46.8,"y":2.724},{"k":"p8","x":50.4,"y":2.717},{"k":"p8","x":54.1,"y":2.71},{"k":"p8","x":57.9,"y":2.705},{"k":"p8","x":61.8,"y":2.7},{"k":"p8","x":65.8,"y":2.696},{"k":"p8","x":69.8,"y":2.693},{"k":"p8","x":73.8,"y":2.691},{"k":"p8","x":77.8,"y":2.69},
      {"k":"y1","x":9.1,"y":3.2},{"k":"y1","x":10.4,"y":3.1},{"k":"y1","x":11.9,"y":3.045},{"k":"y1","x":13.6,"y":3.015},{"k":"y1","x":15.4,"y":2.997},{"k":"y1","x":17.3,"y":2.984},{"k":"y1","x":19.3,"y":2.975},{"k":"y1","x":21.4,"y":2.968},{"k":"y1","x":23.6,"y":2.962},{"k":"y1","x":25.9,"y":2.957},{"k":"y1","x":28.3,"y":2.953},{"k":"y1","x":30.8,"y":2.95},{"k":"y1","x":33.3,"y":2.947},{"k":"y1","x":35.9,"y":2.944},{"k":"y1","x":38.6,"y":2.942},{"k":"y1","x":41.3,"y":2.94},{"k":"y1","x":44.1,"y":2.938},{"k":"y1","x":47,"y":2.937},{"k":"y1","x":49.9,"y":2.936},{"k":"y1","x":52.9,"y":2.935},{"k":"y1","x":55.9,"y":2.934},{"k":"y1","x":58.9,"y":2.933},{"k":"y1","x":61.9,"y":2.932},{"k":"y1","x":64.9,"y":2.931},{"k":"y1","x":67.9,"y":2.931},{"k":"y1","x":70.9,"y":2.93},{"k":"y1","x":73.9,"y":2.93},{"k":"y1","x":76.9,"y":2.929},{"k":"y1","x":79.9,"y":2.929},
      {"k":"y2","x":9.6,"y":3.2},{"k":"y2","x":10.8,"y":3.1},{"k":"y2","x":12.3,"y":3.05},{"k":"y2","x":14,"y":3.02},{"k":"y2","x":16,"y":3.0},{"k":"y2","x":18,"y":2.988},{"k":"y2","x":20,"y":2.978},{"k":"y2","x":22.2,"y":2.97},{"k":"y2","x":24.5,"y":2.962},{"k":"y2","x":26.8,"y":2.956},{"k":"y2","x":29,"y":2.951},{"k":"y2","x":31,"y":2.946},{"k":"y2","x":33.3,"y":2.94},{"k":"y2","x":34.9,"y":2.922},{"k":"y2","x":36.4,"y":2.878},{"k":"y2","x":38,"y":2.82},{"k":"y2","x":39.4,"y":2.774},{"k":"y2","x":41,"y":2.762},{"k":"y2","x":43,"y":2.752},{"k":"y2","x":45,"y":2.744},{"k":"y2","x":47,"y":2.736},{"k":"y2","x":49,"y":2.729},{"k":"y2","x":51.5,"y":2.722},{"k":"y2","x":54,"y":2.716},{"k":"y2","x":56.5,"y":2.711},{"k":"y2","x":59,"y":2.707},{"k":"y2","x":62,"y":2.703},{"k":"y2","x":65,"y":2.7},{"k":"y2","x":68,"y":2.698},{"k":"y2","x":71,"y":2.696},{"k":"y2","x":74,"y":2.695},
      {"k":"y3","x":9.4,"y":3.2},{"k":"y3","x":10.7,"y":3.1},{"k":"y3","x":12.2,"y":3.04},{"k":"y3","x":14,"y":3.008},{"k":"y3","x":16,"y":2.99},{"k":"y3","x":18.2,"y":2.978},{"k":"y3","x":20.5,"y":2.97},{"k":"y3","x":23,"y":2.963},{"k":"y3","x":25.5,"y":2.958},{"k":"y3","x":28,"y":2.954},{"k":"y3","x":30.5,"y":2.95},{"k":"y3","x":33,"y":2.947},{"k":"y3","x":35.5,"y":2.944},{"k":"y3","x":38,"y":2.942},{"k":"y3","x":40.5,"y":2.94},{"k":"y3","x":43,"y":2.938},{"k":"y3","x":45.5,"y":2.937},{"k":"y3","x":48.1,"y":2.914},{"k":"y3","x":49.7,"y":2.853},{"k":"y3","x":51.3,"y":2.794},{"k":"y3","x":52.4,"y":2.771},{"k":"y3","x":54,"y":2.757},{"k":"y3","x":56,"y":2.745},{"k":"y3","x":58,"y":2.735},{"k":"y3","x":60,"y":2.727},{"k":"y3","x":62,"y":2.72},{"k":"y3","x":64,"y":2.714},{"k":"y3","x":66,"y":2.709},{"k":"y3","x":68,"y":2.705},{"k":"y3","x":70.5,"y":2.701},{"k":"y3","x":73,"y":2.698},{"k":"y3","x":75.5,"y":2.696},{"k":"y3","x":78,"y":2.694},{"k":"y3","x":80,"y":2.693},
      {"k":"y4","x":8.7,"y":3.2},{"k":"y4","x":9.8,"y":3.1},{"k":"y4","x":11.1,"y":3.03},{"k":"y4","x":12.6,"y":2.985},{"k":"y4","x":14.1,"y":2.956},{"k":"y4","x":15.5,"y":2.934},{"k":"y4","x":17.2,"y":2.919},{"k":"y4","x":18.65,"y":2.91},{"k":"y4","x":20.3,"y":2.898},{"k":"y4","x":22,"y":2.888},{"k":"y4","x":23.7,"y":2.878},{"k":"y4","x":25.5,"y":2.868},{"k":"y4","x":27.3,"y":2.857},{"k":"y4","x":29.2,"y":2.846},{"k":"y4","x":31.2,"y":2.835},{"k":"y4","x":33.3,"y":2.823},{"k":"y4","x":35.5,"y":2.81},{"k":"y4","x":37.8,"y":2.798},{"k":"y4","x":40.2,"y":2.787},{"k":"y4","x":42.7,"y":2.777},{"k":"y4","x":45.3,"y":2.768},{"k":"y4","x":48,"y":2.76},{"k":"y4","x":50.8,"y":2.752},{"k":"y4","x":53.7,"y":2.745},{"k":"y4","x":56.7,"y":2.739},{"k":"y4","x":59.8,"y":2.734},{"k":"y4","x":63,"y":2.73},{"k":"y4","x":66.3,"y":2.727},{"k":"y4","x":69.7,"y":2.725},{"k":"y4","x":73.1,"y":2.723},{"k":"y4","x":76.5,"y":2.722},
      {"k":"y5","x":8,"y":3.2},{"k":"y5","x":8.9,"y":3.1},{"k":"y5","x":9.9,"y":3.03},{"k":"y5","x":11,"y":2.975},{"k":"y5","x":12.3,"y":2.935},{"k":"y5","x":13.8,"y":2.905},{"k":"y5","x":15.5,"y":2.883},{"k":"y5","x":17.4,"y":2.868},{"k":"y5","x":19.5,"y":2.857},{"k":"y5","x":21.8,"y":2.85},{"k":"y5","x":24.3,"y":2.846},{"k":"y5","x":26.9,"y":2.843},{"k":"y5","x":28.9,"y":2.841},{"k":"y5","x":31.1,"y":2.84},{"k":"y5","x":33.4,"y":2.838},{"k":"y5","x":35.8,"y":2.833},{"k":"y5","x":38.2,"y":2.827},{"k":"y5","x":40.6,"y":2.818},{"k":"y5","x":43,"y":2.806},{"k":"y5","x":45.4,"y":2.795},{"k":"y5","x":47.8,"y":2.785},{"k":"y5","x":50.2,"y":2.776},{"k":"y5","x":52.6,"y":2.769},{"k":"y5","x":55,"y":2.762},{"k":"y5","x":57.4,"y":2.756},{"k":"y5","x":59.8,"y":2.751},{"k":"y5","x":62.2,"y":2.746},{"k":"y5","x":64.6,"y":2.742},{"k":"y5","x":67,"y":2.739},{"k":"y5","x":69.4,"y":2.737},{"k":"y5","x":71.8,"y":2.736},{"k":"y5","x":74.2,"y":2.735},{"k":"y5","x":76.6,"y":2.734},
      {"k":"y6","x":7.4,"y":3.2},{"k":"y6","x":8.1,"y":3.1},{"k":"y6","x":8.9,"y":3.02},{"k":"y6","x":9.8,"y":2.955},{"k":"y6","x":10.9,"y":2.9},{"k":"y6","x":12.2,"y":2.86},{"k":"y6","x":13.8,"y":2.833},{"k":"y6","x":15.6,"y":2.815},{"k":"y6","x":17.6,"y":2.803},{"k":"y6","x":19.8,"y":2.793},{"k":"y6","x":22.2,"y":2.785},{"k":"y6","x":24.8,"y":2.777},{"k":"y6","x":27.6,"y":2.769},{"k":"y6","x":30.5,"y":2.76},{"k":"y6","x":33.5,"y":2.752},{"k":"y6","x":36.6,"y":2.744},{"k":"y6","x":39.8,"y":2.736},{"k":"y6","x":43.1,"y":2.728},{"k":"y6","x":46.5,"y":2.72},{"k":"y6","x":50,"y":2.713},{"k":"y6","x":53.5,"y":2.707},{"k":"y6","x":57.1,"y":2.702},{"k":"y6","x":60.8,"y":2.698},{"k":"y6","x":64.5,"y":2.694},{"k":"y6","x":68.2,"y":2.691},{"k":"y6","x":72,"y":2.689},{"k":"y6","x":75.8,"y":2.688},{"k":"y6","x":79.6,"y":2.687},
      {"k":"y7","x":7.6,"y":3.2},{"k":"y7","x":8.3,"y":3.1},{"k":"y7","x":9.1,"y":3.02},{"k":"y7","x":10,"y":2.95},{"k":"y7","x":11.1,"y":2.895},{"k":"y7","x":12.4,"y":2.852},{"k":"y7","x":14,"y":2.822},{"k":"y7","x":15.9,"y":2.8},{"k":"y7","x":18,"y":2.785},{"k":"y7","x":20.3,"y":2.773},{"k":"y7","x":22.8,"y":2.763},{"k":"y7","x":25.5,"y":2.758},{"k":"y7","x":28.8,"y":2.75},{"k":"y7","x":30.3,"y":2.747},{"k":"y7","x":32.5,"y":2.738},{"k":"y7","x":35,"y":2.728},{"k":"y7","x":37.8,"y":2.718},{"k":"y7","x":40.2,"y":2.711},{"k":"y7","x":43,"y":2.705},{"k":"y7","x":46,"y":2.7},{"k":"y7","x":49.2,"y":2.696},{"k":"y7","x":52.5,"y":2.693},{"k":"y7","x":55.9,"y":2.69},{"k":"y7","x":59.4,"y":2.688},{"k":"y7","x":63,"y":2.686},{"k":"y7","x":66.7,"y":2.684},{"k":"y7","x":70.4,"y":2.682},{"k":"y7","x":74.1,"y":2.681},{"k":"y7","x":77.8,"y":2.68},{"k":"y7","x":80,"y":2.68},
      {"k":"y8","x":8.6,"y":3.2},{"k":"y8","x":9.5,"y":3.1},{"k":"y8","x":10.5,"y":3.03},{"k":"y8","x":11.6,"y":2.978},{"k":"y8","x":12.9,"y":2.94},{"k":"y8","x":14.4,"y":2.912},{"k":"y8","x":16.1,"y":2.89},{"k":"y8","x":18,"y":2.873},{"k":"y8","x":20.1,"y":2.86},{"k":"y8","x":22.4,"y":2.848},{"k":"y8","x":24.9,"y":2.837},{"k":"y8","x":27.6,"y":2.826},{"k":"y8","x":30.5,"y":2.815},{"k":"y8","x":33.6,"y":2.804},{"k":"y8","x":36.9,"y":2.793},{"k":"y8","x":40.3,"y":2.781},{"k":"y8","x":43.8,"y":2.77},{"k":"y8","x":47.4,"y":2.76},{"k":"y8","x":51.1,"y":2.75},{"k":"y8","x":54.9,"y":2.741},{"k":"y8","x":58.8,"y":2.733},{"k":"y8","x":62.8,"y":2.726},{"k":"y8","x":66.8,"y":2.72},{"k":"y8","x":70.9,"y":2.715},{"k":"y8","x":75,"y":2.711},{"k":"y8","x":79.1,"y":2.708}
    ],
    "bold": [
      {"c":"125","x":9.3,"y":3.15},{"c":"125","x":9.6,"y":3.08},{"c":"125","x":10.3,"y":3.07},{"c":"125","x":10.9,"y":3.01},{"c":"125","x":11.6,"y":2.995},{"c":"125","x":12.1,"y":2.965},{"c":"125","x":13.1,"y":2.94},{"c":"125","x":13.7,"y":2.925},{"c":"125","x":14.7,"y":2.913},{"c":"125","x":15.5,"y":2.905},{"c":"125","x":16.4,"y":2.889},{"c":"125","x":17.3,"y":2.874},{"c":"125","x":18.8,"y":2.862},{"c":"125","x":20.5,"y":2.856},{"c":"125","x":22.1,"y":2.844},{"c":"125","x":23.7,"y":2.835},{"c":"125","x":25.4,"y":2.826},{"c":"125","x":27,"y":2.82},{"c":"125","x":28.6,"y":2.815},{"c":"125","x":30.6,"y":2.807},{"c":"125","x":33.4,"y":2.798},{"c":"125","x":35.6,"y":2.789},{"c":"125","x":37.9,"y":2.782},{"c":"125","x":40.1,"y":2.774},{"c":"125","x":42.3,"y":2.771},{"c":"125","x":44.6,"y":2.762},{"c":"125","x":46.8,"y":2.756},{"c":"125","x":49,"y":2.753},{"c":"125","x":51.3,"y":2.75},{"c":"125","x":53.5,"y":2.747},{"c":"125","x":55.7,"y":2.741},{"c":"125","x":58,"y":2.732},{"c":"125","x":60.2,"y":2.729},{"c":"125","x":63.9,"y":2.726},{"c":"125","x":68,"y":2.724},{"c":"125","x":72,"y":2.723},{"c":"125","x":76,"y":2.722},{"c":"125","x":80,"y":2.722},
      {"c":"250","x":8.6,"y":3.15},{"c":"250","x":8.75,"y":3.048},{"c":"250","x":9.2,"y":3.04},{"c":"250","x":9.8,"y":3.009},{"c":"250","x":10.14,"y":2.982},{"c":"250","x":11.45,"y":2.94},{"c":"250","x":12.6,"y":2.91},{"c":"250","x":13.7,"y":2.886},{"c":"250","x":14.7,"y":2.868},{"c":"250","x":16.4,"y":2.853},{"c":"250","x":18,"y":2.843},{"c":"250","x":19.6,"y":2.834},{"c":"250","x":21.3,"y":2.826},{"c":"250","x":22.9,"y":2.816},{"c":"250","x":24.5,"y":2.81},{"c":"250","x":26.2,"y":2.804},{"c":"250","x":27.8,"y":2.801},{"c":"250","x":30.6,"y":2.792},{"c":"250","x":33.4,"y":2.778},{"c":"250","x":35.6,"y":2.772},{"c":"250","x":37.9,"y":2.765},{"c":"250","x":40,"y":2.758},{"c":"250","x":42.3,"y":2.747},{"c":"250","x":44.5,"y":2.743},{"c":"250","x":46.8,"y":2.738},{"c":"250","x":49,"y":2.733},{"c":"250","x":51.3,"y":2.729},{"c":"250","x":53.5,"y":2.726},{"c":"250","x":55.7,"y":2.723},{"c":"250","x":58,"y":2.72},{"c":"250","x":60.2,"y":2.717},{"c":"250","x":63.9,"y":2.714},{"c":"250","x":67,"y":2.71},{"c":"250","x":70,"y":2.707},{"c":"250","x":73,"y":2.705},{"c":"250","x":76.5,"y":2.703},{"c":"250","x":80,"y":2.702},
      {"c":"500","x":8.1,"y":3.15},{"c":"500","x":8.34,"y":3.072},{"c":"500","x":9.2,"y":3.06},{"c":"500","x":9.8,"y":2.982},{"c":"500","x":10.5,"y":2.967},{"c":"500","x":11.1,"y":2.928},{"c":"500","x":12.4,"y":2.913},{"c":"500","x":13.4,"y":2.88},{"c":"500","x":14.7,"y":2.868},{"c":"500","x":16.4,"y":2.846},{"c":"500","x":18,"y":2.84},{"c":"500","x":19.6,"y":2.831},{"c":"500","x":21.3,"y":2.825},{"c":"500","x":22.9,"y":2.819},{"c":"500","x":24.5,"y":2.812},{"c":"500","x":26.2,"y":2.807},{"c":"500","x":27.8,"y":2.801},{"c":"500","x":30.6,"y":2.79},{"c":"500","x":33.4,"y":2.771},{"c":"500","x":35.6,"y":2.765},{"c":"500","x":37.9,"y":2.759},{"c":"500","x":40.1,"y":2.75},{"c":"500","x":42.3,"y":2.741},{"c":"500","x":44.5,"y":2.735},{"c":"500","x":46.8,"y":2.729},{"c":"500","x":49,"y":2.726},{"c":"500","x":51.3,"y":2.723},{"c":"500","x":53.5,"y":2.711},{"c":"500","x":55.7,"y":2.71},{"c":"500","x":58,"y":2.708},{"c":"500","x":60.2,"y":2.696},{"c":"500","x":63.9,"y":2.692},{"c":"500","x":67,"y":2.691},{"c":"500","x":70,"y":2.69},{"c":"500","x":75,"y":2.689},{"c":"500","x":80,"y":2.688},
      {"c":"1000","x":8.7,"y":3.15},{"c":"1000","x":9.16,"y":3.078},{"c":"1000","x":9.5,"y":3.015},{"c":"1000","x":10.5,"y":2.988},{"c":"1000","x":11.1,"y":2.94},{"c":"1000","x":11.8,"y":2.928},{"c":"1000","x":12.76,"y":2.892},{"c":"1000","x":13.9,"y":2.889},{"c":"1000","x":14.7,"y":2.871},{"c":"1000","x":15.5,"y":2.868},{"c":"1000","x":16.4,"y":2.856},{"c":"1000","x":18,"y":2.843},{"c":"1000","x":19.6,"y":2.837},{"c":"1000","x":21.3,"y":2.828},{"c":"1000","x":22.9,"y":2.819},{"c":"1000","x":24.5,"y":2.813},{"c":"1000","x":26.2,"y":2.807},{"c":"1000","x":27.8,"y":2.804},{"c":"1000","x":30.6,"y":2.795},{"c":"1000","x":33.4,"y":2.783},{"c":"1000","x":35.6,"y":2.775},{"c":"1000","x":37.9,"y":2.762},{"c":"1000","x":40.1,"y":2.757},{"c":"1000","x":42.3,"y":2.753},{"c":"1000","x":44.5,"y":2.746},{"c":"1000","x":46.8,"y":2.738},{"c":"1000","x":49,"y":2.732},{"c":"1000","x":51.3,"y":2.726},{"c":"1000","x":53.5,"y":2.72},{"c":"1000","x":58,"y":2.72},{"c":"1000","x":60.2,"y":2.711},{"c":"1000","x":63.9,"y":2.705},{"c":"1000","x":66,"y":2.704},{"c":"1000","x":66.3,"y":2.695},{"c":"1000","x":70,"y":2.694},{"c":"1000","x":72,"y":2.693},{"c":"1000","x":72.3,"y":2.688},{"c":"1000","x":76,"y":2.687},{"c":"1000","x":80,"y":2.686},
      {"c":"2000","x":9.6,"y":3.15},{"c":"2000","x":9.8,"y":3.09},{"c":"2000","x":11.45,"y":3.078},{"c":"2000","x":11.8,"y":2.97},{"c":"2000","x":13.4,"y":2.964},{"c":"2000","x":14.4,"y":2.892},{"c":"2000","x":16,"y":2.886},{"c":"2000","x":16.7,"y":2.856},{"c":"2000","x":18,"y":2.85},{"c":"2000","x":19.6,"y":2.84},{"c":"2000","x":21.3,"y":2.831},{"c":"2000","x":22.9,"y":2.825},{"c":"2000","x":24.5,"y":2.822},{"c":"2000","x":26.2,"y":2.81},{"c":"2000","x":27.8,"y":2.807},{"c":"2000","x":30.6,"y":2.798},{"c":"2000","x":33.4,"y":2.789},{"c":"2000","x":35.6,"y":2.783},{"c":"2000","x":37.9,"y":2.777},{"c":"2000","x":40.1,"y":2.771},{"c":"2000","x":42.3,"y":2.765},{"c":"2000","x":44.6,"y":2.759},{"c":"2000","x":46.8,"y":2.753},{"c":"2000","x":49,"y":2.75},{"c":"2000","x":51.3,"y":2.747},{"c":"2000","x":53.5,"y":2.738},{"c":"2000","x":55.7,"y":2.732},{"c":"2000","x":58,"y":2.717},{"c":"2000","x":60.2,"y":2.708},{"c":"2000","x":63.9,"y":2.705},{"c":"2000","x":67,"y":2.703},{"c":"2000","x":71.5,"y":2.702},{"c":"2000","x":72.2,"y":2.684},{"c":"2000","x":76,"y":2.683},{"c":"2000","x":80,"y":2.682}
    ]
  },
  "resolve": {"axis": {"x": "independent", "y": "independent"}},
  "layer": [
    {
      "data": {"name": "runs"},
      "transform": [{"lookup": "k", "from": {"data": {"name": "meta"}, "key": "k", "fields": ["c", "m"]}}],
      "mark": {"type": "line", "strokeWidth": 3.5, "strokeDash": [11, 7], "clip": true},
      "encoding": {
        "x": {
          "field": "x", "type": "quantitative",
          "scale": {"domain": [5, 80], "nice": false, "zero": false},
          "axis": {
            "values": [10, 20, 30, 40, 50, 60, 70, 80], "title": "time (sec)", "grid": false,
            "labelFontSize": 56, "labelColor": "#262626", "labelFlush": false, "labelPadding": 65,
            "titleFontSize": 63, "titleFontWeight": "normal", "titleColor": "#262626",
            "titleX": 1606.5, "titleY": 164, "titleAlign": "center", "titleBaseline": "alphabetic",
            "tickSize": -33, "tickWidth": 2, "tickColor": "#262626", "domainColor": "#262626", "domainWidth": 2
          }
        },
        "y": {
          "field": "y", "type": "quantitative",
          "scale": {"domain": [2.6498, 3.1], "nice": false, "zero": false},
          "axis": {
            "values": [2.7, 2.8, 2.9, 3, 3.1], "format": "~g", "title": "loss (200,000 samples)", "grid": false,
            "labelFontSize": 56, "labelColor": "#262626", "labelFlush": false, "labelPadding": 56,
            "titleFontSize": 61, "titleFontWeight": "normal", "titleColor": "#262626",
            "titleX": -118, "titleY": 336, "titleAngle": 270, "titleAlign": "center", "titleBaseline": "alphabetic",
            "tickSize": -33, "tickWidth": 2, "tickColor": "#262626", "domainColor": "#262626", "domainWidth": 2
          }
        },
        "color": {
          "field": "c", "type": "nominal",
          "scale": {"domain": ["125", "250", "500", "1000", "2000", "nominal"], "range": ["#0072BD", "#D95319", "#EDB120", "#7E2F8E", "#77AC30", "#000000"]},
          "legend": {
            "orient": "none", "legendX": 2501, "legendY": 30, "title": null,
            "symbolType": "M-5,0L5,0", "symbolSize": 625, "symbolStrokeWidth": 11, "symbolOffset": 36.5,
            "labelFontSize": 52, "labelFont": "Liberation Sans", "labelColor": "#000000", "labelLimit": 1000, "labelOffset": 46.5,
            "rowPadding": 16, "padding": 13, "fillColor": "white", "strokeColor": "#262626",
            "labelExpr": "datum.value === 'nominal' ? 'nominal (true solution)' : 'samples = ' + datum.label",
            "encode": {
              "legend": {"update": {"strokeWidth": {"value": 2}}},
              "symbols": {"update": {
                "stroke": {"scale": "color", "field": "value"},
                "fill": {"value": "transparent"},
                "strokeWidth": {"value": 11},
                "opacity": {"value": 1},
                "strokeDash": {"signal": "datum.value === 'nominal' ? [11, 13] : [1, 0]"}
              }}
            }
          }
        },
        "detail": {"field": "k"}
      }
    },
    {
      "data": {"name": "runs"},
      "transform": [
        {"lookup": "k", "from": {"data": {"name": "meta"}, "key": "k", "fields": ["c", "m"]}},
        {"filter": "datum.m === 'd'"}
      ],
      "mark": {"type": "point", "shape": "circle", "filled": true, "size": 160, "opacity": 1, "clip": true},
      "encoding": {
        "x": {"field": "x", "type": "quantitative", "scale": {"domain": [5, 80], "nice": false, "zero": false}, "axis": null},
        "y": {"field": "y", "type": "quantitative", "scale": {"domain": [2.6498, 3.1], "nice": false, "zero": false}, "axis": null},
        "color": {"field": "c", "type": "nominal"}
      }
    },
    {
      "data": {"name": "runs"},
      "transform": [
        {"lookup": "k", "from": {"data": {"name": "meta"}, "key": "k", "fields": ["c", "m"]}},
        {"filter": "datum.m === 'a'"}
      ],
      "mark": {"type": "point", "shape": "M-1,0L1,0M0,-1L0,1M-0.7,-0.7L0.7,0.7M-0.7,0.7L0.7,-0.7", "filled": false, "size": 480, "strokeWidth": 3, "opacity": 1, "clip": true},
      "encoding": {
        "x": {"field": "x", "type": "quantitative", "scale": {"domain": [5, 80], "nice": false, "zero": false}, "axis": null},
        "y": {"field": "y", "type": "quantitative", "scale": {"domain": [2.6498, 3.1], "nice": false, "zero": false}, "axis": null},
        "color": {"field": "c", "type": "nominal"}
      }
    },
    {
      "data": {"name": "bold"},
      "mark": {"type": "line", "strokeWidth": 12, "clip": true},
      "encoding": {
        "x": {
          "field": "x", "type": "quantitative", "scale": {"domain": [5, 80], "nice": false, "zero": false},
          "axis": {
            "orient": "top", "values": [10, 20, 30, 40, 50, 60, 70, 80], "labels": false, "domain": false, "grid": false,
            "tickSize": -33, "tickWidth": 2, "tickColor": "#262626",
            "title": "6", "titleFont": "Liberation Sans", "titleFontSize": 42, "titleFontWeight": "normal", "titleColor": "#262626",
            "titleX": 113, "titleY": -43, "titleAngle": 0, "titleAlign": "left", "titleBaseline": "alphabetic"
          }
        },
        "y": {
          "field": "y", "type": "quantitative", "scale": {"domain": [2.6498, 3.1], "nice": false, "zero": false},
          "axis": {
            "orient": "right", "values": [2.7, 2.8, 2.9, 3, 3.1], "labels": false, "domain": false, "grid": false,
            "tickSize": -33, "tickWidth": 2, "tickColor": "#262626",
            "title": "×10", "titleFont": "Liberation Sans", "titleFontSize": 56, "titleFontWeight": "normal", "titleColor": "#262626",
            "titleX": -3204, "titleY": -14, "titleAngle": 0, "titleAlign": "left", "titleBaseline": "alphabetic"
          }
        },
        "color": {"field": "c", "type": "nominal"}
      }
    },
    {
      "data": {"values": [{"v": 2.6677}]},
      "mark": {"type": "rule", "strokeWidth": 11, "strokeDash": [11, 13], "color": "#000000"},
      "encoding": {
        "y": {"field": "v", "type": "quantitative", "scale": {"domain": [2.6498, 3.1], "nice": false, "zero": false}, "axis": null}
      }
    }
  ]
}
